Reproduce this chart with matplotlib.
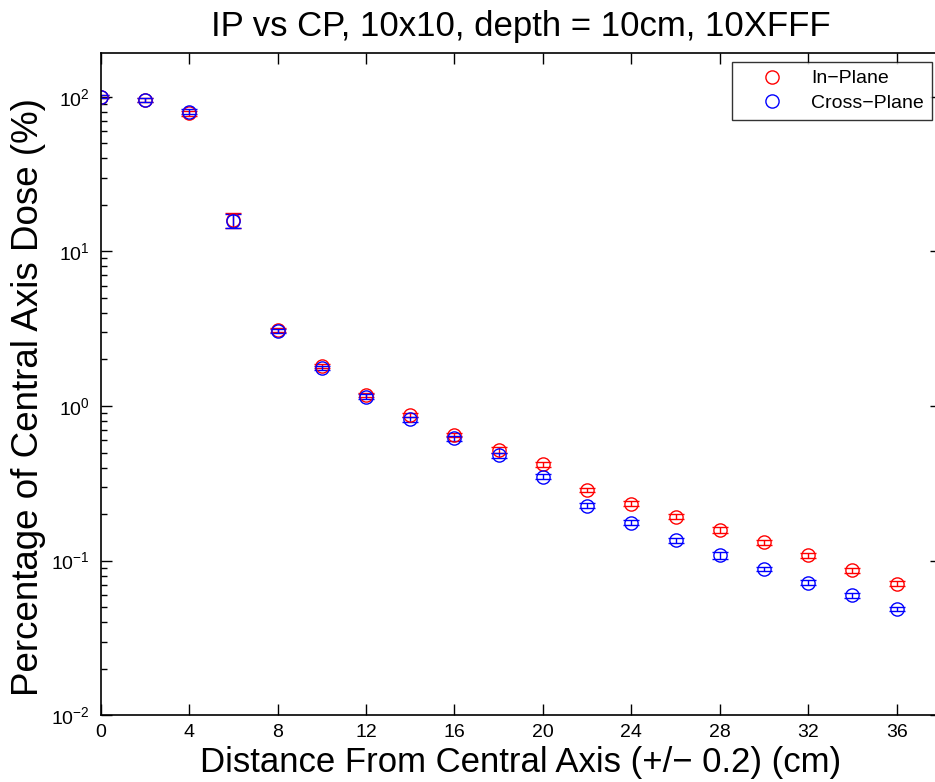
import numpy as np
import matplotlib
matplotlib.use("Agg")
import matplotlib.pyplot as plt
from matplotlib.ticker import LogLocator, NullFormatter

plt.rcParams['font.family'] = ['Liberation Sans', 'DejaVu Sans']
plt.rcParams['mathtext.fontset'] = 'custom'
plt.rcParams['mathtext.rm'] = 'Liberation Sans'

# Data
distance = [0, 2, 4, 6, 8, 10, 12, 14, 16, 18, 20, 22, 24, 26, 28, 30, 32, 34, 36]
in_plane = [100, 95.2, 78, 15.9, 3.1, 1.81, 1.18, 0.875, 0.649, 0.52, 0.42,
            0.286, 0.234, 0.192, 0.158, 0.132, 0.108, 0.0867, 0.0709]
in_plane_err = [2.0, 3.0, 3.0, 1.7, 0.08, 0.05, 0.04, 0.03, 0.02, 0.02, 0.015,
                0.01, 0.008, 0.007, 0.006, 0.005, 0.004, 0.003, 0.0025]
cross_plane = [100, 95.2, 80, 15.8, 3.05, 1.77, 1.15, 0.82, 0.618, 0.48, 0.349,
               0.227, 0.176, 0.136, 0.108, 0.0886, 0.0722, 0.0596, 0.0487]
cross_plane_err = [2.0, 3.0, 3.0, 1.7, 0.08, 0.05, 0.04, 0.03, 0.02, 0.02, 0.012,
                   0.008, 0.006, 0.005, 0.005, 0.003, 0.003, 0.002, 0.0018]
xticks = [0, 4, 8, 12, 16, 20, 24, 28, 32, 36]

fig = plt.figure(figsize=(9.35, 7.82), dpi=100)
ax = fig.add_axes([0.1077, 0.0853, 0.8986, 0.8473])

ax.errorbar(distance, in_plane, yerr=in_plane_err, fmt='o', mfc='none', mec='red',
            ecolor='red', ms=9.5, mew=1.0, elinewidth=1.0, capsize=6, capthick=1.0,
            label='In\u2212Plane')
ax.errorbar(distance, cross_plane, yerr=cross_plane_err, fmt='o', mfc='none', mec='blue',
            ecolor='blue', ms=9.5, mew=1.0, elinewidth=1.0, capsize=6, capthick=1.0,
            label='Cross\u2212Plane')

ax.set_yscale('log')
ax.set_xlim(0, 38)
ax.set_ylim(0.01, 10 ** 2.2845)
ax.set_xticks(xticks)
ax.set_xticklabels([str(t) for t in xticks])
ax.yaxis.set_major_locator(LogLocator(base=10, numticks=10))
ax.yaxis.set_minor_locator(LogLocator(base=10, subs=np.arange(2, 10), numticks=20))
ax.yaxis.set_minor_formatter(NullFormatter())
ax.tick_params(which='both', direction='in', top=True, right=True, width=1.0)
ax.tick_params(which='major', length=8, labelsize=14)
ax.tick_params(which='minor', length=4)
ax.tick_params(axis='x', pad=6)
ax.tick_params(axis='y', pad=8)
for s in ax.spines.values():
    s.set_linewidth(1.2)

ax.set_title('IP vs CP, 10x10, depth = 10cm, 10XFFF', fontsize=25, pad=12)
ax.set_xlabel('Distance From Central Axis (+/\u2212 0.2) (cm)', fontsize=25, labelpad=4)
ax.set_ylabel('Percentage of Central Axis Dose (%)', fontsize=26.5)
ax.yaxis.set_label_coords(-0.065, 0.48)

handles, labels = ax.get_legend_handles_labels()
handles = [h[0] for h in handles]
leg = ax.legend(handles, labels, loc='upper right', bbox_to_anchor=(0.9894, 0.986),
                borderaxespad=0, fontsize=14, frameon=True, fancybox=False,
                edgecolor='black', handlelength=3.3, handletextpad=0.4,
                borderpad=0.4, labelspacing=0.35)
leg.get_frame().set_linewidth(1.0)

fig.savefig('out.png', dpi=100)
